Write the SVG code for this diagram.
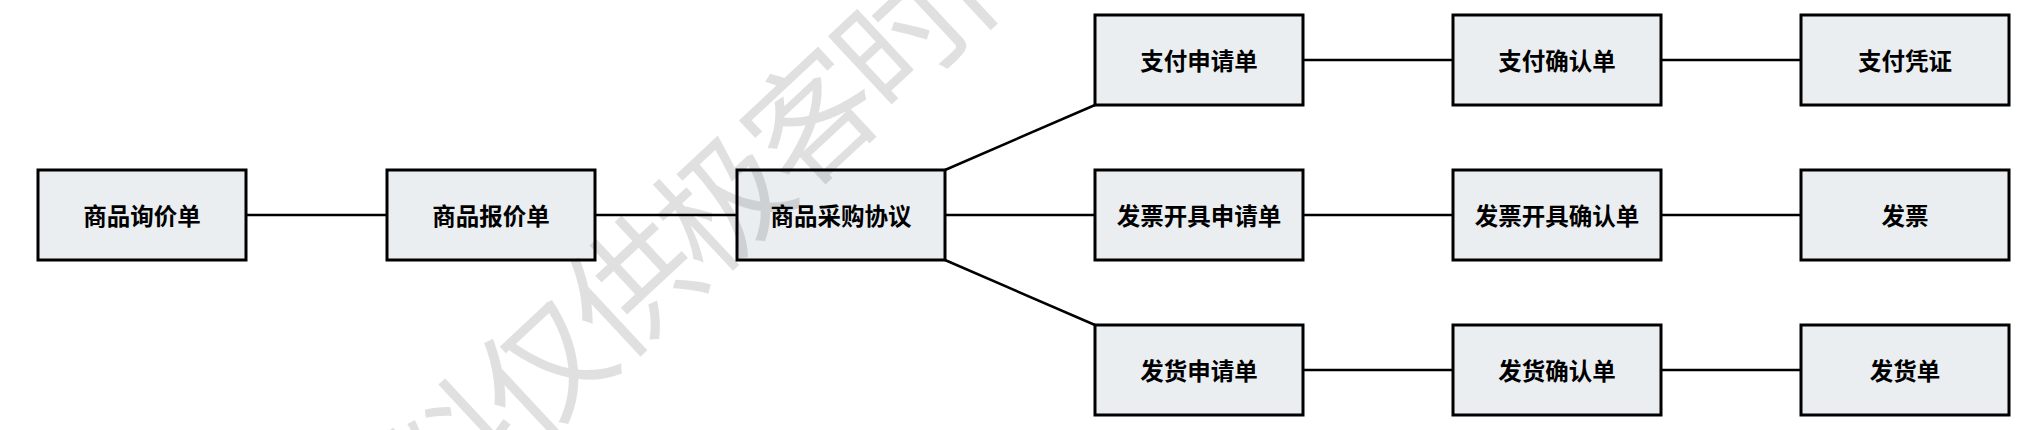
<svg xmlns="http://www.w3.org/2000/svg" width="2032" height="430" viewBox="0 0 2032 430">
<style>
.box{fill:#ebeef1;stroke:#000;stroke-width:3}
.lbl{font-family:"Noto Sans CJK SC","Noto Sans",sans-serif;font-weight:bold;font-size:23.5px;fill:#000;text-anchor:middle;dominant-baseline:central}
.conn line{stroke:#000;stroke-width:2.5}
.wm{font-family:"Noto Sans CJK SC",sans-serif;font-weight:400;font-size:128px;letter-spacing:-6px;fill:#000;fill-opacity:0.12}
</style>
<rect width="2032" height="430" fill="#fff"/>
<g id="connectors" class="conn">
<line x1="246" y1="215" x2="387" y2="215"/>
<line x1="595" y1="215" x2="737" y2="215"/>
<line x1="945" y1="215" x2="1095" y2="215"/>
<line x1="945" y1="170" x2="1095" y2="105"/>
<line x1="945" y1="260" x2="1095" y2="325"/>
<line x1="1303" y1="60" x2="1453" y2="60"/>
<line x1="1661" y1="60" x2="1801" y2="60"/>
<line x1="1303" y1="215" x2="1453" y2="215"/>
<line x1="1661" y1="215" x2="1801" y2="215"/>
<line x1="1303" y1="370" x2="1453" y2="370"/>
<line x1="1661" y1="370" x2="1801" y2="370"/>
</g>
<g id="n1"><rect class="box" x="38" y="170" width="208" height="90"/><text class="lbl" x="142" y="215">商品询价单</text></g>
<g id="n2"><rect class="box" x="387" y="170" width="208" height="90"/><text class="lbl" x="491" y="215">商品报价单</text></g>
<g id="n3"><rect class="box" x="737" y="170" width="208" height="90"/><text class="lbl" x="841" y="215">商品采购协议</text></g>
<g id="n4"><rect class="box" x="1095" y="15" width="208" height="90"/><text class="lbl" x="1199" y="60">支付申请单</text></g>
<g id="n5"><rect class="box" x="1453" y="15" width="208" height="90"/><text class="lbl" x="1557" y="60">支付确认单</text></g>
<g id="n6"><rect class="box" x="1801" y="15" width="208" height="90"/><text class="lbl" x="1905" y="60">支付凭证</text></g>
<g id="n7"><rect class="box" x="1095" y="170" width="208" height="90"/><text class="lbl" x="1199" y="215">发票开具申请单</text></g>
<g id="n8"><rect class="box" x="1453" y="170" width="208" height="90"/><text class="lbl" x="1557" y="215">发票开具确认单</text></g>
<g id="n9"><rect class="box" x="1801" y="170" width="208" height="90"/><text class="lbl" x="1905" y="215">发票</text></g>
<g id="n10"><rect class="box" x="1095" y="325" width="208" height="90"/><text class="lbl" x="1199" y="370">发货申请单</text></g>
<g id="n11"><rect class="box" x="1453" y="325" width="208" height="90"/><text class="lbl" x="1557" y="370">发货确认单</text></g>
<g id="n12"><rect class="box" x="1801" y="325" width="208" height="90"/><text class="lbl" x="1905" y="370">发货单</text></g>
<text class="wm" transform="translate(440,530) rotate(-43)">料仅供极客时间</text>
</svg>
